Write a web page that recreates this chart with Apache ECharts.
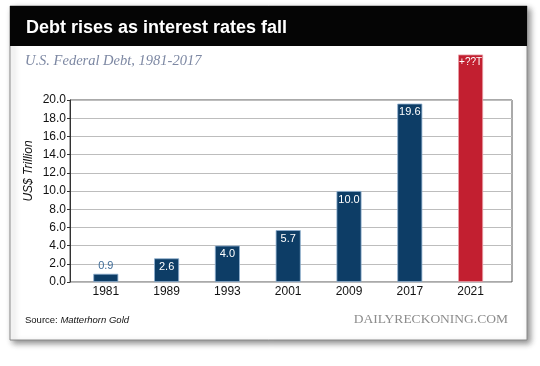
<!DOCTYPE html>
<html><head><meta charset="utf-8">
<script src="https://cdn.jsdelivr.net/npm/echarts@6/dist/echarts.min.js"></script>
<style>html,body{margin:0;padding:0;background:#fff}#c{width:540px;height:366px}</style>
</head><body><div id="c"></div>
<script>
const categories = ['1981', '1989', '1993', '2001', '2009', '2017', '2021'];
const debtValues = [0.9, 2.6, 4.0, 5.7, 10.0, 19.6, 25.0];
const barLabels = ['0.9', '2.6', '4.0', '5.7', '10.0', '19.6', '+??T'];
const yMin = 0, yMax = 20, yStep = 2;

const navy = '#0d3d66', red = '#c21f30';
const seriesData = debtValues.map(function (v, i) {
  const last = i === debtValues.length - 1;
  const item = {
    value: v,
    itemStyle: { color: last ? red : navy, borderColor: last ? '#e9a0a8' : '#8fb0cf', borderWidth: 0.8 },
    label: { formatter: barLabels[i], fontSize: last ? 10 : 11 }
  };
  if (v < 1.5) {
    item.label.position = 'top';
    item.label.color = '#3f6c98';
    item.label.distance = 2;
  }
  return item;
});

const chart = echarts.init(document.getElementById('c'), null, { renderer: 'canvas' });
chart.setOption({
  animation: false,
  grid: [
    { left: 70, right: 28, top: 100, bottom: 84, show: true, borderColor: '#555', borderWidth: 1, containLabel: false },
    { left: 75.4, right: 39, top: 100, bottom: 84, containLabel: false }
  ],
  xAxis: [
    { gridIndex: 0, type: 'value', min: 0, max: 1, show: false },
    { gridIndex: 1, type: 'category', data: categories,
      axisLine: { show: false }, axisTick: { show: false },
      axisLabel: { color: '#111', fontSize: 12, fontFamily: 'Liberation Sans, Arial, sans-serif', margin: 4 } }
  ],
  yAxis: [
    { gridIndex: 0, type: 'value', min: yMin, max: yMax, interval: yStep,
      axisLine: { show: true, lineStyle: { color: '#333', width: 1 } },
      axisTick: { show: true, length: 3, lineStyle: { color: '#333' } },
      splitLine: { show: true, lineStyle: { color: '#bdbdbd', width: 1 } },
      axisLabel: { color: '#111', fontSize: 12, fontFamily: 'Liberation Sans, Arial, sans-serif', margin: 4,
        formatter: function (v) { return v.toFixed(1); } } },
    { gridIndex: 1, type: 'value', min: yMin, max: yMax, show: false }
  ],
  series: [{
    type: 'bar', xAxisIndex: 1, yAxisIndex: 1, data: seriesData, barWidth: 25, clip: false, z: 5,
    label: { show: true, position: 'insideTop', distance: 3, color: '#fff',
      fontFamily: 'Liberation Sans, Arial, sans-serif' }
  }],
  graphic: [
    { type: 'rect', z: -10, shape: { x: 10, y: 6, width: 517, height: 334 },
      style: { fill: '#fff', stroke: '#8a8a8a', lineWidth: 1, shadowBlur: 6, shadowOffsetX: 3, shadowOffsetY: 3, shadowColor: 'rgba(0,0,0,0.45)' } },
    { type: 'rect', z: -9, shape: { x: 10, y: 6, width: 517, height: 40 }, style: { fill: '#050505' } },
    { type: 'text', left: 26, top: 19, z: 10,
      style: { text: 'Debt rises as interest rates fall', fill: '#fff', font: 'bold 18px "Liberation Sans", Arial, sans-serif' } },
    { type: 'text', left: 25, top: 54, z: 10,
      style: { text: 'U.S. Federal Debt, 1981-2017', fill: '#7d88a3', font: 'italic 14.5px "Liberation Serif", "Times New Roman", serif' } },
    { type: 'text', x: 29, y: 171, rotation: Math.PI / 2, z: 10,
      style: { text: 'US$ Trillion', fill: '#111', align: 'center', verticalAlign: 'middle', font: 'italic 12px "Liberation Sans", Arial, sans-serif' } },
    { type: 'text', left: 25, top: 315, z: 10,
      style: { text: '{a|Source: }{b|Matterhorn Gold}',
        rich: { a: { fill: '#111', font: '9.5px "Liberation Sans", Arial, sans-serif' },
                b: { fill: '#111', font: 'italic 9.5px "Liberation Sans", Arial, sans-serif' } } } },
    { type: 'text', right: 32, top: 312, z: 10,
      style: { text: 'DAILYRECKONING.COM', fill: '#8c8c8c', font: '13.5px "Liberation Serif", "Times New Roman", serif' } }
  ]
});
</script></body></html>
